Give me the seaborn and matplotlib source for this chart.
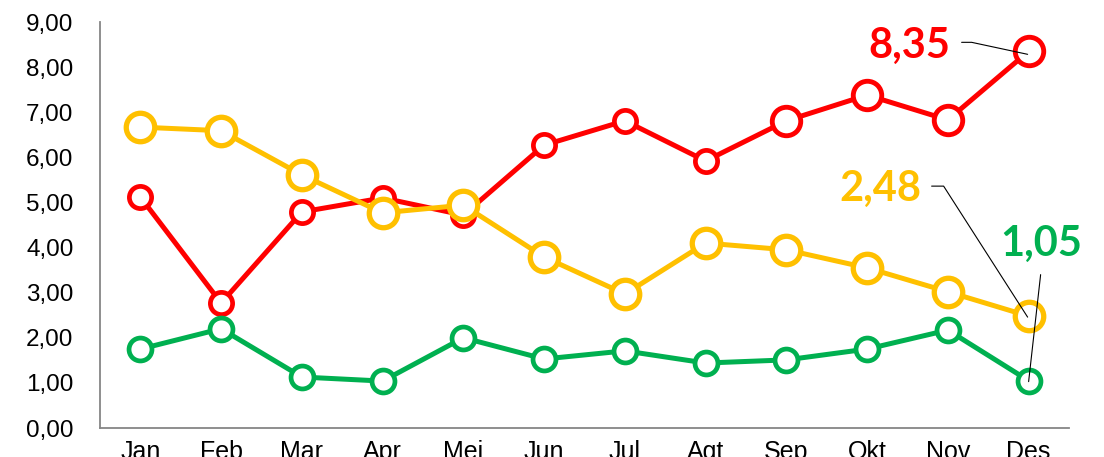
from matplotlib import pyplot as plt
from matplotlib.transforms import ScaledTranslation
from matplotlib.ticker import FixedLocator, FuncFormatter
import seaborn as sns

# Monthly values
months = ["Jan", "Feb", "Mar", "Apr", "Mei", "Jun", "Jul", "Agt", "Sep", "Okt", "Nov", "Des"]
red_values = [5.12, 2.77, 4.79, 5.10, 4.72, 6.27, 6.81, 5.92, 6.81, 7.38, 6.83, 8.35]
yellow_values = [6.67, 6.59, 5.61, 4.77, 4.94, 3.79, 2.97, 4.10, 3.95, 3.55, 3.02, 2.48]
green_values = [1.75, 2.20, 1.13, 1.04, 2.00, 1.53, 1.71, 1.44, 1.51, 1.75, 2.17, 1.05]

RED = "#FF0000"
YELLOW = "#FFC000"
GREEN = "#00B050"
AXIS = "#868686"

sns.set_style("white")
plt.rcParams['font.family'] = ['Liberation Sans', 'DejaVu Sans']

fig = plt.figure(figsize=(11.04, 4.57), dpi=100)
ax = fig.add_axes([100 / 1104, 29 / 457, 969 / 1104, 406 / 457])

x = list(range(len(months)))

# red series, the last four markers are drawn a bit larger
sns.lineplot(x=x, y=red_values, ax=ax, color=RED, lw=3.6, marker="o", ms=16,
             markerfacecolor="white", markeredgecolor=RED, markeredgewidth=3.4, zorder=3)
sns.scatterplot(x=x[8:], y=red_values[8:], ax=ax, s=20.5 ** 2, marker="o",
                facecolor="white", edgecolor=RED, linewidth=3.5, zorder=3.5)
sns.lineplot(x=x, y=green_values, ax=ax, color=GREEN, lw=3.6, marker="o", ms=16.5,
             markerfacecolor="white", markeredgecolor=GREEN, markeredgewidth=3.4, zorder=4)
sns.lineplot(x=x, y=yellow_values, ax=ax, color=YELLOW, lw=3.6, marker="o", ms=20.5,
             markerfacecolor="white", markeredgecolor=YELLOW, markeredgewidth=3.8, zorder=5)

ax.set_xlim(-0.5, len(months) - 0.5)
ax.set_ylim(0, 9)
ax.set_yticks(range(0, 10))
ax.yaxis.set_major_formatter(FuncFormatter(lambda v, p: f"{v:.2f}".replace(".", ",")))
ax.tick_params(axis="y", length=0, pad=19, labelsize=17.5, labelcolor="black")

ax.set_xticks(x)
ax.set_xticklabels(months)
ax.xaxis.set_minor_locator(FixedLocator([i - 0.5 for i in range(len(months) + 1)]))
ax.tick_params(axis="x", which="major", length=0, pad=8.5, labelsize=18, labelcolor="black")
ax.tick_params(axis="x", which="minor", length=22, width=1, color=AXIS, direction="out")

for side in ["top", "right"]:
    ax.spines[side].set_visible(False)
for side in ["left", "bottom"]:
    ax.spines[side].set_color(AXIS)
    ax.spines[side].set_linewidth(1.3)
ax.set_xlabel("")
ax.set_ylabel("")

# end-of-year labels with leader lines (offsets in inches from the December point)
last = len(months) - 1
labels = [
    (red_values[last], RED, [(-0.67, 0.09), (-0.57, 0.09), (-0.01, -0.03)], (-0.78, 0.05), "right"),
    (yellow_values[last], YELLOW, [(-0.97, 1.30), (-0.85, 1.30), (-0.01, -0.01)], (-1.07, 1.27), "right"),
    (green_values[last], GREEN, [(0.12, 1.06), (0.0, -0.01)], (0.125, 1.37), "center"),
]
for val, col, path, (tx, ty), ha in labels:
    t = fig.dpi_scale_trans + ScaledTranslation(last, val, ax.transData)
    ax.plot([p[0] for p in path], [p[1] for p in path], transform=t,
            color="black", lw=0.8, zorder=6, clip_on=False)
    ax.text(tx, ty, f"{val:.2f}".replace(".", ","), transform=t, ha=ha, va="center",
            color=col, fontsize=30, fontweight="bold", family=["Lato", "DejaVu Sans"],
            zorder=7)

fig.savefig("out.png", dpi=100)
